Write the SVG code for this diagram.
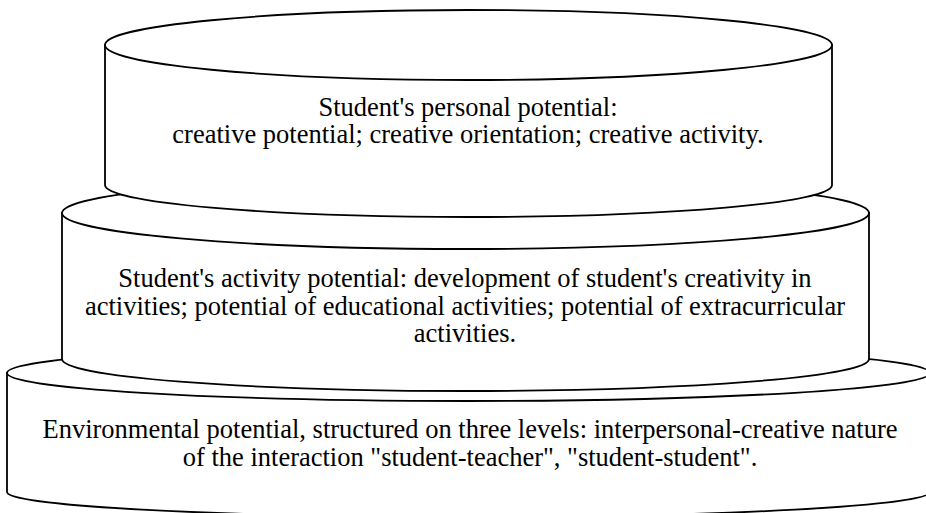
<svg xmlns="http://www.w3.org/2000/svg" width="926" height="513" viewBox="0 0 926 513">
<style>
.shape{fill:#fff;stroke:#000;stroke-width:1.8}
.t{font-family:"Liberation Serif","Times New Roman",serif;font-size:26.5px;fill:#000;text-anchor:middle}
</style>
<rect width="926" height="513" fill="#fff"/>
<g id="bottom-cylinder">
<path class="shape" d="M7,373 V492 A461.5,25 0 0 0 930,492 V373 Z"/>
<ellipse class="shape" cx="468.5" cy="373" rx="461.5" ry="28"/>
<text class="t" x="470" y="437.5">Environmental potential, structured on three levels: interpersonal-creative nature</text>
<text class="t" x="470" y="465.5">of the interaction "student-teacher", "student-student".</text>
</g>
<g id="middle-cylinder">
<path class="shape" d="M62,213 V359 A403.5,32 0 0 0 869,359 V213 Z"/>
<ellipse class="shape" cx="465.5" cy="213" rx="403.5" ry="36"/>
<text class="t" x="465" y="287">Student's activity potential: development of student's creativity in</text>
<text class="t" x="465" y="314.5">activities; potential of educational activities; potential of extracurricular</text>
<text class="t" x="465" y="342">activities.</text>
</g>
<g id="top-cylinder">
<path class="shape" d="M105,45 V185 A363.5,32 0 0 0 832,185 V45 Z"/>
<ellipse class="shape" cx="468.5" cy="45" rx="363.5" ry="35"/>
<text class="t" x="468" y="116">Student's personal potential:</text>
<text class="t" x="468" y="143">creative potential; creative orientation; creative activity.</text>
</g>
<g id="connectors"/>
</svg>
